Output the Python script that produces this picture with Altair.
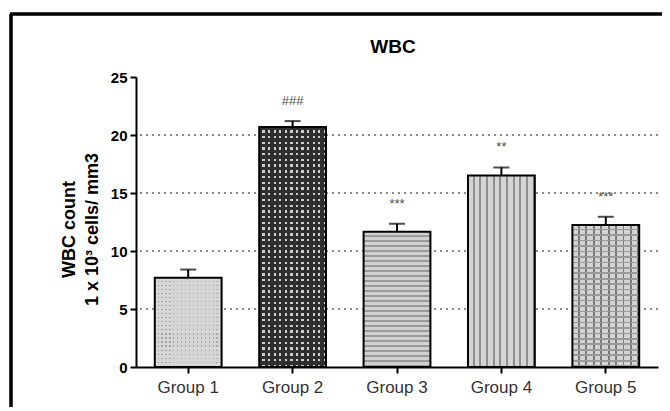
import altair as alt
import pandas as pd

# ---- data ----
groups = ["Group 1", "Group 2", "Group 3", "Group 4", "Group 5"]
means = [7.7, 20.7, 11.65, 16.5, 12.25]
errors = [0.7, 0.5, 0.7, 0.7, 0.7]
signif = ["", "###", "***", "**", "***"]
grid_values = [5, 10, 15, 20]
y_ticks = [0, 5, 10, 15, 20, 25]
chart_title = ["WBC"]

df = pd.DataFrame({"group": groups, "mean": means, "err": errors, "sig": signif})
df["upper"] = df["mean"] + df["err"]
grid_df = pd.DataFrame({"v": grid_values})
title_df = pd.DataFrame({"t": chart_title})

FONT = "Liberation Sans"
W, H = 522, 290
CLEAR = "rgba(0,0,0,0)"


def stripes(n, base, line, frac, vertical):
    stops = []
    for i in range(n):
        a = i / n
        b = (i + 1 - frac) / n
        c = (i + 1) / n
        stops += [
            alt.GradientStop(offset=a, color=base),
            alt.GradientStop(offset=b, color=base),
            alt.GradientStop(offset=b, color=line),
            alt.GradientStop(offset=c, color=line),
        ]
    if vertical:
        return alt.LinearGradient(gradient="linear", stops=stops, x1=0, y1=0, x2=1, y2=0)
    return alt.LinearGradient(gradient="linear", stops=stops, x1=0, y1=0, x2=0, y2=1)


# pattern layers per group (drawn bottom to top)
patterns = {
    "Group 1": [
        stripes(17, "#d6d6d6", "#a8a8a8", 0.3, True),
        stripes(22, "#d6d6d6", CLEAR, 0.3, False),
    ],
    "Group 2": [
        stripes(12, "#2e2e2e", "#cfcfcf", 0.42, True),
        stripes(42, "#2e2e2e", CLEAR, 0.42, False),
    ],
    "Group 3": [
        stripes(27, "#d0d0d0", "#9a9a9a", 0.4, False),
    ],
    "Group 4": [
        stripes(10, "#d4d4d4", "#8e8e8e", 0.3, True),
    ],
    "Group 5": [
        stripes(9, "#d4d4d4", "#7a7a7a", 0.25, True),
        stripes(26, CLEAR, "#9a9a9a", 0.3, False),
    ],
}

x_enc = alt.X(
    "group:N",
    scale=alt.Scale(domain=groups, paddingInner=0.36, paddingOuter=0.18),
    title=None,
    axis=alt.Axis(
        labelAngle=0, labelFont=FONT, labelFontSize=17, labelColor="#333333",
        labelPadding=6, tickSize=6, tickWidth=2, tickColor="black",
        domainColor="black", domainWidth=2, grid=False,
    ),
)
y_scale = alt.Scale(domain=[0, 25], nice=False)

base = alt.Chart(df)

layers = []

# dotted grid lines
layers.append(
    alt.Chart(grid_df).mark_rule(color="#8a8a8a", strokeWidth=2, strokeDash=[2, 4]).encode(
        y=alt.Y("v:Q", scale=y_scale)
    )
)

# patterned bars
for g in groups:
    for grad in patterns[g]:
        layers.append(
            base.transform_filter(alt.datum.group == g)
            .mark_bar(fill=grad, strokeWidth=0)
            .encode(x=x_enc, y=alt.Y("mean:Q", scale=y_scale))
        )

# bar outlines + main y axis
layers.append(
    base.mark_bar(fillOpacity=0, stroke="black", strokeWidth=2).encode(
        x=x_enc,
        y=alt.Y(
            "mean:Q",
            scale=y_scale,
            title=["WBC count", "1 x 10\u00b3 cells/ mm3"],
            axis=alt.Axis(
                values=y_ticks, grid=False, domainColor="black", domainWidth=2,
                tickColor="black", tickWidth=2, tickSize=6,
                labelFont=FONT, labelFontSize=15, labelFontWeight="bold",
                labelColor="black", labelPadding=3,
                titleFont=FONT, titleFontSize=18, titleFontWeight="bold",
                titleColor="black", titleAngle=270, titleAlign="center",
                titleBaseline="top", titleX=-76, titleY=152, titleLineHeight=23,
            ),
        ),
    )
)

# error bars (upper half with cap)
layers.append(
    base.mark_rule(color="black", strokeWidth=2).encode(
        x=x_enc, y=alt.Y("mean:Q", scale=y_scale), y2="upper:Q"
    )
)
layers.append(
    base.mark_tick(color="black", size=16, thickness=2, orient="horizontal").encode(
        x=x_enc, y=alt.Y("upper:Q", scale=y_scale)
    )
)

# significance marks
layers.append(
    base.mark_text(font=FONT, fontSize=13, color="#4d4d4d", baseline="middle", dy=-20).encode(
        x=x_enc, y=alt.Y("upper:Q", scale=y_scale), text="sig:N"
    )
)

# chart title
layers.append(
    alt.Chart(title_df).mark_text(
        font=FONT, fontSize=19, fontWeight="bold", color="black", baseline="middle", align="center"
    ).encode(x=alt.value(257), y=alt.value(-30), text="t:N")
)

# outer frame (left and top border of the figure)
layers.append(
    base.mark_rule(color="black", strokeWidth=2.5).encode(
        x=alt.value(-125), y=alt.value(-63), y2=alt.value(340)
    )
)
layers.append(
    base.mark_rule(color="black", strokeWidth=2.5).encode(
        x=alt.value(-126), x2=alt.value(540), y=alt.value(-63)
    )
)

chart = (
    alt.layer(*layers)
    .properties(
        width=W,
        height=H,
        autosize=alt.AutoSizeParams(type="none"),
        padding={"left": 128, "top": 69, "right": 4, "bottom": 40},
    )
    .configure_view(stroke=None)
)

chart.save("out.html", embed_options={"renderer": "svg", "actions": False})
